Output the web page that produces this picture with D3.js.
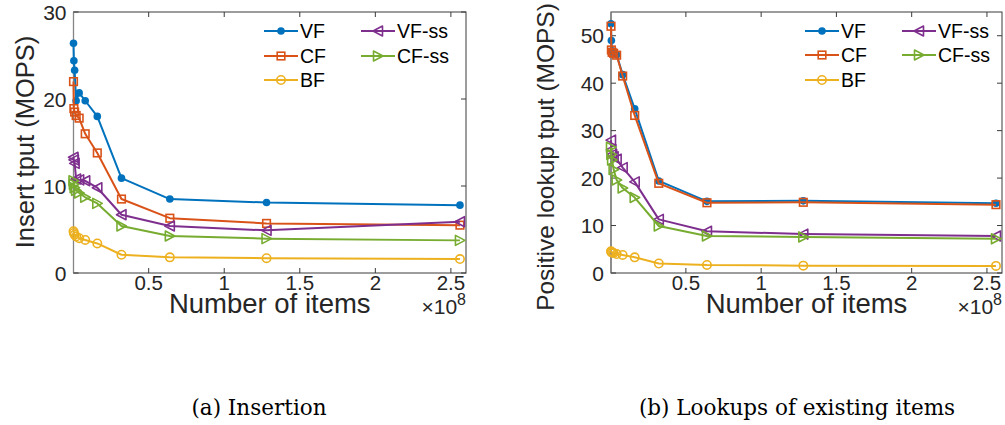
<!DOCTYPE html>
<html>
<head>
<meta charset="utf-8">
<script src="https://cdn.jsdelivr.net/npm/d3@7"></script>
<style>
  html, body { margin: 0; padding: 0; background: #fff; }
  svg { display: block; font-family: "Liberation Sans", Arial, sans-serif; }
</style>
</head>
<body>
<svg id="chart" width="1005" height="425"></svg>
<script>
// number of items (x axis), same for both panels
const items = [0.25e6, 0.5e6, 1e6, 2e6, 4e6, 8e6, 16e6, 32e6, 64e6, 128e6, 256e6];
const seriesNames = ["VF", "CF", "BF", "VF-ss", "CF-ss"];

// (a) insertion throughput, MOPS
const insertVF   = [26.4, 24.4, 23.3, 19.8, 20.7, 19.8, 18.0, 10.9, 8.5, 8.1, 7.8];
const insertCF   = [22.0, 18.9, 18.5, 18.1, 17.8, 16.0, 13.8, 8.5, 6.3, 5.7, 5.5];
const insertBF   = [4.8, 4.6, 4.4, 4.2, 4.0, 3.8, 3.4, 2.1, 1.8, 1.7, 1.6];
const insertVFss = [13.3, 13.0, 12.6, 10.8, 10.7, 10.6, 9.8, 6.7, 5.4, 4.9, 5.9];
const insertCFss = [10.6, 10.2, 9.8, 9.5, 9.2, 8.7, 8.0, 5.4, 4.25, 3.95, 3.75];

// (b) positive lookup throughput, MOPS
const lookupVF   = [52.5, 49.0, 46.8, 46.5, 46.0, 41.8, 34.6, 19.4, 15.1, 15.2, 14.7];
const lookupCF   = [52.0, 47.0, 46.5, 46.3, 45.9, 41.5, 33.2, 18.9, 14.8, 14.9, 14.4];
const lookupBF   = [4.6, 4.4, 4.3, 4.2, 4.0, 3.8, 3.3, 2.0, 1.7, 1.55, 1.5];
const lookupVFss = [28.0, 26.0, 25.0, 24.5, 24.0, 22.2, 19.2, 11.3, 8.8, 8.2, 7.8];
const lookupCFss = [26.5, 25.0, 23.8, 21.8, 19.6, 17.9, 15.9, 9.9, 7.8, 7.6, 7.2];

const xTicks = [0.5e8, 1e8, 1.5e8, 2e8, 2.5e8];
const xTickLabels = ["0.5", "1", "1.5", "2", "2.5"];
const insertYTicks = [0, 10, 20, 30];
const lookupYTicks = [0, 10, 20, 30, 40, 50];

const colors = ["#0072BD", "#D95319", "#EDB120", "#7E2F8E", "#77AC30"];
const markers = ["dot", "square", "circle", "left", "right"];

const svg = d3.select("svg#chart");

const panels = [
  {
    left: 73.5, right: 466, top: 12, bottom: 273,
    yMax: 30, yTicks: insertYTicks,
    yLabel: "Insert tput (MOPS)", yLabelX: 34, yLabelY: 142, yLabelSize: 25.5,
    series: [insertVF, insertCF, insertBF, insertVFss, insertCFss],
    legendX: [264, 361], legendY: [31, 56, 80],
    caption: "(a) Insertion", captionX: 259
  },
  {
    left: 611, right: 1002, top: 12, bottom: 273,
    yMax: 55, yTicks: lookupYTicks,
    yLabel: "Positive lookup tput (MOPS)", yLabelX: 554, yLabelY: 157, yLabelSize: 24.5,
    series: [lookupVF, lookupCF, lookupBF, lookupVFss, lookupCFss],
    legendX: [805, 902], legendY: [31, 55, 80],
    caption: "(b) Lookups of existing items", captionX: 797
  }
];

function drawMarker(g, kind, color) {
  if (kind === "dot") {
    g.append("circle").attr("r", 3.8).attr("fill", color);
  } else if (kind === "square") {
    g.append("rect").attr("x", -3.8).attr("y", -3.8).attr("width", 7.6).attr("height", 7.6)
      .attr("fill", "none").attr("stroke", color).attr("stroke-width", 1.6);
  } else if (kind === "circle") {
    g.append("circle").attr("r", 4.2).attr("fill", "none")
      .attr("stroke", color).attr("stroke-width", 1.6);
  } else {
    const s = kind === "left" ? -1 : 1;
    g.append("path")
      .attr("d", `M${5 * s},0L${-4.5 * s},-5L${-4.5 * s},5Z`)
      .attr("fill", "none").attr("stroke", color).attr("stroke-width", 1.6)
      .attr("stroke-linejoin", "round");
  }
}

panels.forEach((p) => {
  const x = d3.scaleLinear().domain([items[0], 2.6e8]).range([p.left, p.right]);
  const y = d3.scaleLinear().domain([0, p.yMax]).range([p.bottom, p.top]);
  const g = svg.append("g");

  // box
  g.append("rect")
    .attr("x", p.left).attr("y", p.top)
    .attr("width", p.right - p.left).attr("height", p.bottom - p.top)
    .attr("fill", "none").attr("stroke", "#3a3a3a").attr("stroke-width", 1);
  g.append("line")
    .attr("x1", p.left).attr("x2", p.left).attr("y1", p.top).attr("y2", p.bottom)
    .attr("stroke", "#858585").attr("stroke-width", 1.3);

  // inward ticks on all four sides
  const tl = 5;
  xTicks.forEach((t) => {
    g.append("line").attr("x1", x(t)).attr("x2", x(t)).attr("y1", p.bottom).attr("y2", p.bottom - tl)
      .attr("stroke", "#3a3a3a");
    g.append("line").attr("x1", x(t)).attr("x2", x(t)).attr("y1", p.top).attr("y2", p.top + tl)
      .attr("stroke", "#3a3a3a");
  });
  p.yTicks.forEach((t) => {
    g.append("line").attr("x1", p.left).attr("x2", p.left + tl).attr("y1", y(t)).attr("y2", y(t))
      .attr("stroke", "#3a3a3a");
    g.append("line").attr("x1", p.right).attr("x2", p.right - tl).attr("y1", y(t)).attr("y2", y(t))
      .attr("stroke", "#3a3a3a");
  });

  // tick labels
  g.selectAll(".xt").data(xTicks).join("text")
    .attr("x", (d) => x(d)).attr("y", p.bottom + 17)
    .attr("text-anchor", "middle").attr("font-size", 20.5).attr("fill", "#262626")
    .text((d, i) => xTickLabels[i]);
  g.selectAll(".yt").data(p.yTicks).join("text")
    .attr("x", p.left - 7).attr("y", (d) => y(d) + 7.5)
    .attr("text-anchor", "end").attr("font-size", 21).attr("fill", "#262626")
    .text((d) => d);

  // axis titles
  g.append("text")
    .attr("x", (p.left + p.right) / 2).attr("y", p.bottom + 40)
    .attr("text-anchor", "middle").attr("font-size", 27.5).attr("fill", "#262626")
    .text("Number of items");
  g.append("text")
    .attr("transform", `translate(${p.yLabelX},${p.yLabelY}) rotate(-90)`)
    .attr("text-anchor", "middle").attr("font-size", p.yLabelSize).attr("fill", "#262626")
    .text(p.yLabel);
  const ex = g.append("text")
    .attr("x", p.right).attr("y", p.bottom + 41)
    .attr("text-anchor", "end").attr("font-size", 21).attr("fill", "#262626");
  ex.append("tspan").text("\u00d710");
  ex.append("tspan").attr("dy", -9).attr("font-size", 16).text("8");

  // series
  const line = d3.line().x((d, i) => x(items[i])).y((d) => y(d));
  p.series.forEach((vals, k) => {
    g.append("path").datum(vals)
      .attr("d", line).attr("fill", "none")
      .attr("stroke", colors[k]).attr("stroke-width", 2)
      .attr("stroke-linejoin", "round");
    vals.forEach((v, i) => {
      const m = g.append("g").attr("transform", `translate(${x(items[i])},${y(v)})`);
      drawMarker(m, markers[k], colors[k]);
    });
  });

  // legend, two columns
  seriesNames.forEach((name, k) => {
    const col = k < 3 ? 0 : 1;
    const row = k < 3 ? k : k - 3;
    const lx = p.legendX[col];
    const ly = p.legendY[row];
    g.append("line").attr("x1", lx).attr("x2", lx + 34).attr("y1", ly).attr("y2", ly)
      .attr("stroke", colors[k]).attr("stroke-width", 2);
    const m = g.append("g").attr("transform", `translate(${lx + 17},${ly})`);
    drawMarker(m, markers[k], colors[k]);
    g.append("text").attr("x", lx + 36).attr("y", ly + 7)
      .attr("font-size", 19.5).attr("fill", "#000").text(name);
  });

  // caption
  svg.append("text")
    .attr("x", p.captionX).attr("y", 415)
    .attr("text-anchor", "middle")
    .attr("font-family", "'DejaVu Serif', serif").attr("font-size", 21.5)
    .attr("fill", "#000").text(p.caption);
});
</script>
</body>
</html>
